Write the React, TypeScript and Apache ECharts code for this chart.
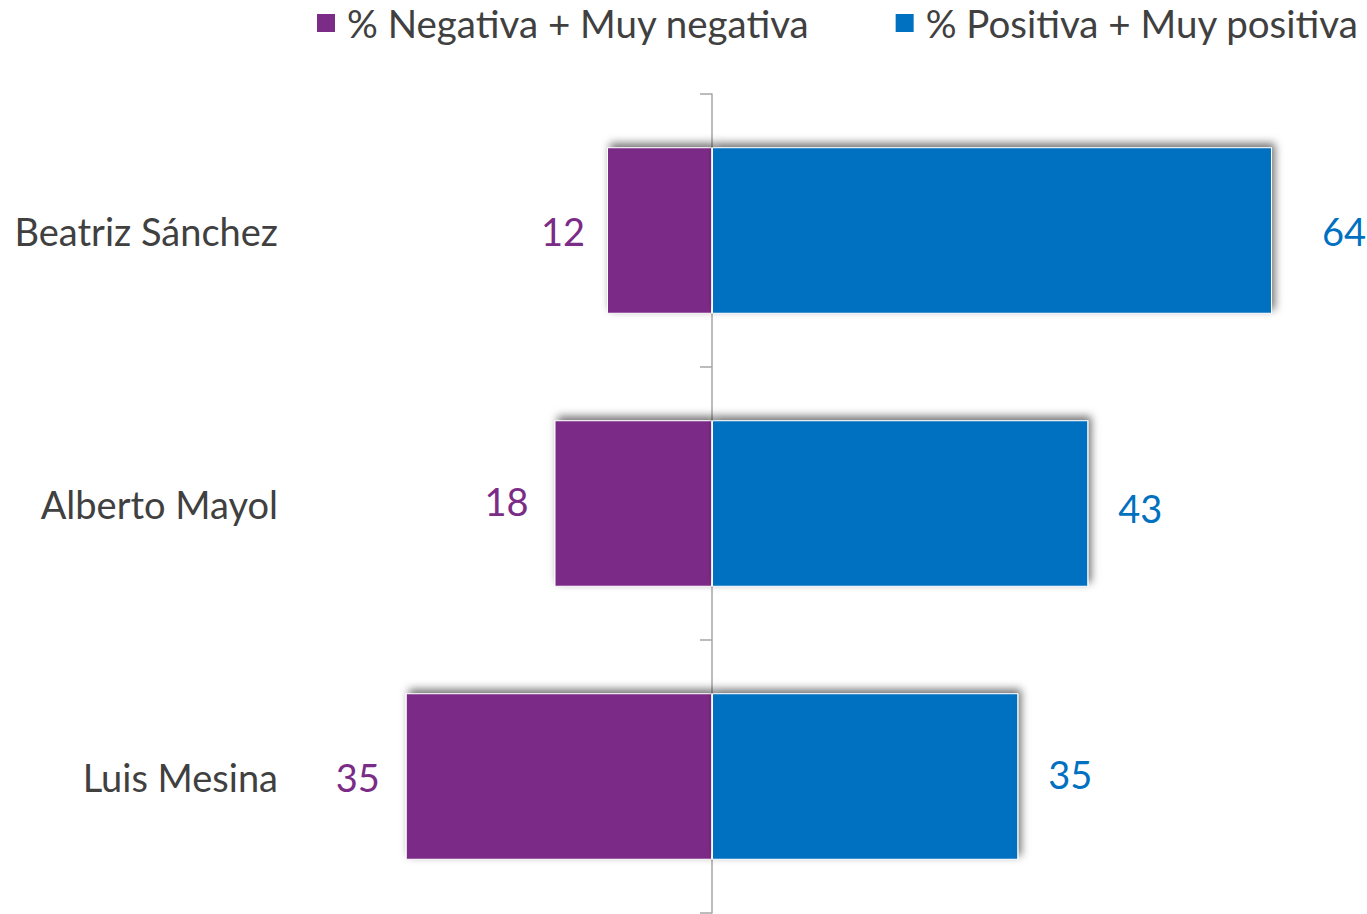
import React, { useEffect, useRef } from "react";
import * as echarts from "echarts";

const categories = ["Beatriz Sánchez", "Alberto Mayol", "Luis Mesina"];
const negativeValues = [12, 18, 35];
const positiveValues = [64, 43, 35];
const seriesNames = ["% Negativa + Muy negativa", "% Positiva + Muy positiva"];

const PURPLE = "#7B2C87";
const BLUE = "#0070C0";
const TEXT = "#404040";
const FONT = "Lato, 'Open Sans', sans-serif";

// label placement tweaks (style only)
const negDistances = [22, 26, 26];
const negOffsetsY = [0, -3, 0];
const posDistances = [50, 30, 30];
const posOffsetsY = [0, 4, -3];

export default function App() {
  const ref = useRef<HTMLDivElement>(null);
  useEffect(() => {
    if (!ref.current) return;
    const chart = echarts.init(ref.current, undefined, { renderer: "svg" });
    const shadow = {
      shadowBlur: 8,
      shadowColor: "rgba(0,0,0,0.55)",
      shadowOffsetX: 3,
      shadowOffsetY: -4,
      borderColor: "#ffffff",
      borderWidth: 1,
    };
    chart.setOption({
      animation: false,
      textStyle: { fontFamily: FONT },
      legend: {
        orient: "horizontal",
        top: 3,
        left: 315,
        width: 1200,
        padding: 0,
        itemWidth: 20,
        itemHeight: 20,
        itemGap: 84,
        icon: "rect",
        textStyle: {
          fontSize: 38.5,
          lineHeight: 40,
          color: TEXT,
          fontFamily: FONT,
          padding: [0, 0, 0, 6],
        },
        data: seriesNames,
      },
      grid: { left: 362, right: 1367 - 1324.5, top: 94, bottom: 1 },
      xAxis: {
        type: "value",
        min: -40,
        max: 70,
        show: false,
      },
      yAxis: [
        {
          type: "category",
          data: categories,
          inverse: true,
          axisLine: { onZero: true, lineStyle: { color: "#A6A6A6", width: 1.5 } },
          axisTick: { show: true, length: 12, lineStyle: { color: "#A6A6A6", width: 1.5 } },
          axisLabel: { show: false },
        },
        {
          type: "category",
          data: categories,
          inverse: true,
          position: "left",
          axisLine: { show: false, onZero: false },
          axisTick: { show: false },
          axisLabel: { show: true, margin: 84, fontSize: 38, color: TEXT, fontFamily: FONT },
        },
      ],
      series: [
        {
          name: seriesNames[0],
          type: "bar",
          yAxisIndex: 0,
          barWidth: "61%",
          barGap: "-100%",
          data: negativeValues.map((v, i) => ({
            value: -v,
            label: { distance: negDistances[i], offset: [0, negOffsetsY[i]] },
          })),
          itemStyle: { color: PURPLE, ...shadow },
          label: {
            show: true,
            position: "left",
            fontSize: 38,
            color: PURPLE,
            fontFamily: FONT,
            formatter: (p: any) => String(Math.abs(p.value)),
          },
        },
        {
          name: seriesNames[1],
          type: "bar",
          yAxisIndex: 0,
          barWidth: "61%",
          data: positiveValues.map((v, i) => ({
            value: v,
            label: { distance: posDistances[i], offset: [0, posOffsetsY[i]] },
          })),
          itemStyle: { color: BLUE, ...shadow },
          label: {
            show: true,
            position: "right",
            fontSize: 38,
            color: BLUE,
            fontFamily: FONT,
          },
        },
      ],
    });
    return () => chart.dispose();
  }, []);
  return (
    <div
      ref={ref}
      style={{ position: "fixed", left: 0, top: 0, width: 1367, height: 914, background: "#fff" }}
    />
  );
}
